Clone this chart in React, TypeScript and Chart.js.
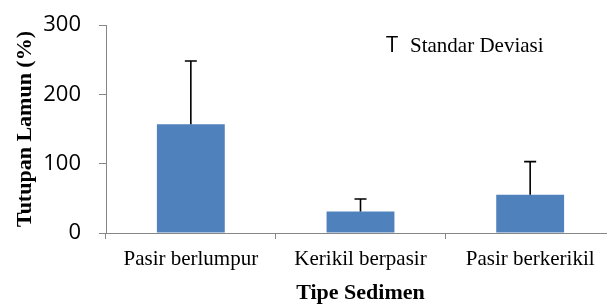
import React, { useEffect, useRef } from "react";
import { Chart, registerables } from "chart.js";

Chart.register(...registerables);

const categories = ["Pasir berlumpur", "Kerikil berpasir", "Pasir berkerikil"];
const means = [157, 31, 55];
const sds = [91, 18, 48];
const yMax = 300;
const yStep = 100;
const yTitle = "Tutupan Lamun (%)";
const xTitle = "Tipe Sedimen";
const legendSymbol = "T";
const legendText = "Standar Deviasi";

const AXIS = "#868686";
const BAR = "#4F81BD";

const errorBarPlugin = {
  id: "errorBars",
  afterDatasetsDraw(chart: any) {
    const meta = chart.getDatasetMeta(0);
    const y = chart.scales.y;
    const ctx = chart.ctx;
    ctx.save();
    ctx.strokeStyle = "#000";
    ctx.lineWidth = 1.6;
    meta.data.forEach((el: any, i: number) => {
      const top = y.getPixelForValue(means[i] + sds[i]);
      ctx.beginPath();
      ctx.moveTo(el.x, el.y);
      ctx.lineTo(el.x, top);
      ctx.moveTo(el.x - 6, top);
      ctx.lineTo(el.x + 6, top);
      ctx.stroke();
    });
    ctx.restore();
  },
};

const legendPlugin = {
  id: "sdLegend",
  afterDraw(chart: any) {
    const ctx = chart.ctx;
    ctx.save();
    ctx.fillStyle = "#000";
    ctx.textBaseline = "alphabetic";
    ctx.textAlign = "left";
    ctx.font = "22px 'Open Sans'";
    ctx.fillText(legendSymbol, 386, 52);
    ctx.font = "21px 'Liberation Serif'";
    ctx.fillText(legendText, 410, 52);
    ctx.restore();
  },
};

export default function App() {
  const ref = useRef<HTMLCanvasElement>(null);
  useEffect(() => {
    if (!ref.current) return;
    const chart = new Chart(ref.current, {
      type: "bar",
      data: {
        labels: categories,
        datasets: [
          {
            data: means,
            backgroundColor: BAR,
            borderWidth: 0,
            barPercentage: 0.4,
            categoryPercentage: 1,
          },
        ],
      },
      options: {
        responsive: false,
        animation: false,
        layout: { padding: { top: 25, right: 0, left: 0, bottom: 0 } },
        plugins: { legend: { display: false }, tooltip: { enabled: false } },
        scales: {
          x: {
            afterFit: (s: any) => {
              s.height = 71;
              s.paddingLeft = 0;
              s.paddingRight = 0;
            },
            grid: {
              drawOnChartArea: false,
              drawTicks: true,
              tickLength: 6,
              color: AXIS,
              offset: true,
            },
            border: { display: true, color: AXIS, width: 1 },
            ticks: {
              color: "#000",
              font: { family: "'Liberation Serif'", size: 21 },
              padding: 8,
              maxRotation: 0,
              autoSkip: false,
            },
            title: {
              display: true,
              text: xTitle,
              color: "#000",
              font: { family: "'Liberation Serif'", size: 22, weight: "bold", lineHeight: 1 },
              padding: 0,
            },
          },
          y: {
            min: 0,
            max: yMax,
            afterFit: (s: any) => {
              s.width = 106;
              s.paddingTop = 0;
              s.paddingBottom = 0;
            },
            grid: {
              drawOnChartArea: false,
              drawTicks: true,
              tickLength: 7,
              color: AXIS,
            },
            border: { display: true, color: AXIS, width: 1 },
            ticks: {
              stepSize: yStep,
              color: "#000",
              font: { family: "'Open Sans'", size: 22 },
              padding: 18,
            },
            title: {
              display: true,
              text: yTitle,
              color: "#000",
              font: { family: "'Liberation Serif'", size: 22, weight: "bold", lineHeight: 1 },
              padding: { top: 14, bottom: 0 },
            },
          },
        },
      },
      plugins: [errorBarPlugin, legendPlugin],
    });
    return () => chart.destroy();
  }, []);
  return (
    <div style={{ position: "fixed", left: 0, top: 0, width: 615, height: 304, background: "#fff" }}>
      <canvas ref={ref} width={615} height={304} />
    </div>
  );
}
